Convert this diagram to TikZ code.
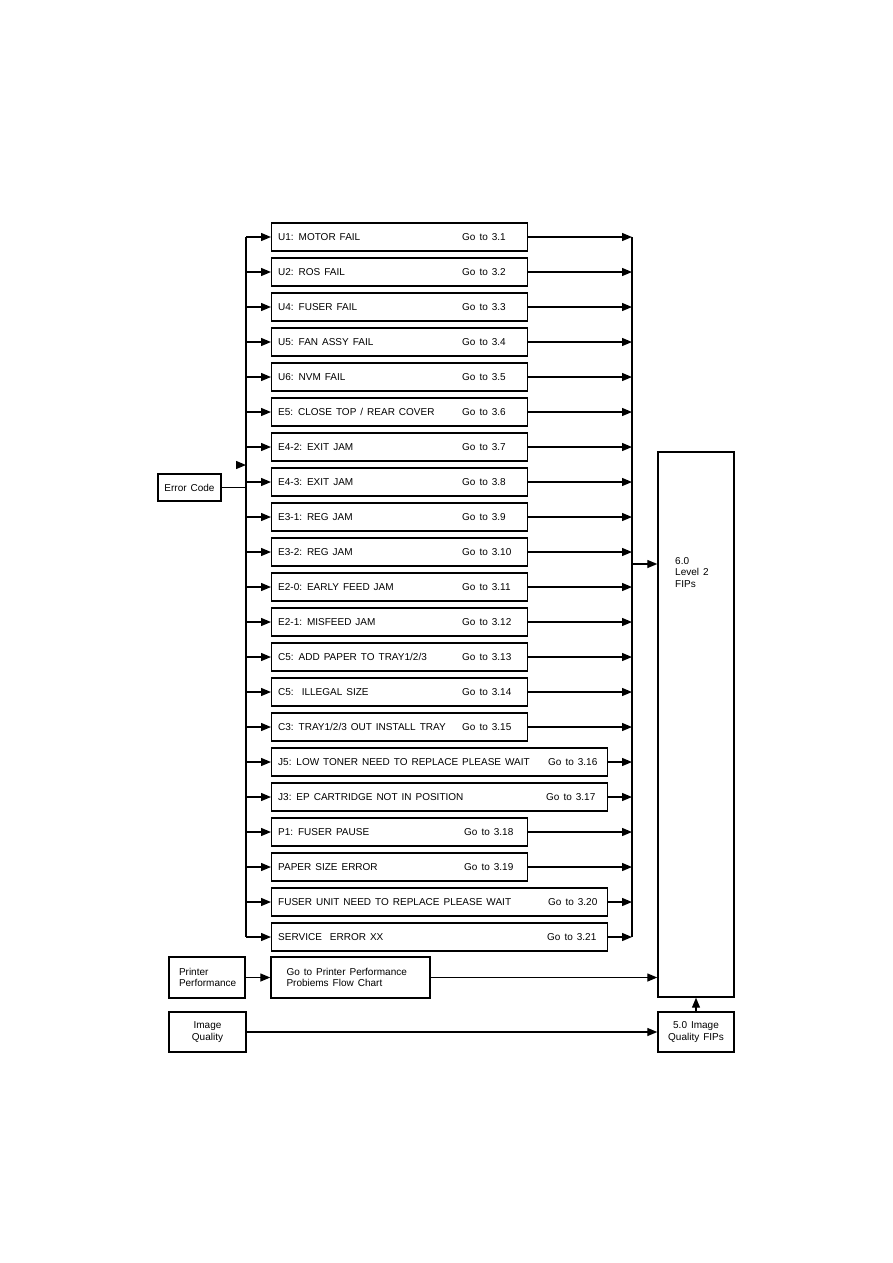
\documentclass[tikz,border=0pt]{standalone}
\usepackage{fontspec}
\setmainfont{Liberation Sans}
\usetikzlibrary{arrows.meta,positioning,calc}
\newcommand{\widespace}{\spaceskip=4pt plus 1pt\relax}

\begin{document}
\begin{tikzpicture}[
  x=1pt, y=-1pt,
  font=\fontsize{10}{11.5}\selectfont,
  every node/.append style={execute at begin node=\widespace},
  box/.style={draw, line width=1.4pt, inner sep=0pt, anchor=west, minimum height=28pt},
  sidebox/.style={draw, line width=1.4pt, align=left, inner sep=0pt},
  txt/.style={anchor=west, inner sep=0pt},
  arr/.style={-{Triangle[length=10pt,width=8pt]}, line width=1.3pt},
  bus/.style={line width=1.4pt}
]
\useasboundingbox (0,0) rectangle (893,1263);

% fault code boxes
\foreach \i/\lab/\go/\w/\gx in {
  1/{U1: MOTOR FAIL}/3.1/256/462,
  2/{U2: ROS FAIL}/3.2/256/462,
  3/{U4: FUSER FAIL}/3.3/256/462,
  4/{U5: FAN ASSY FAIL}/3.4/256/462,
  5/{U6: NVM FAIL}/3.5/256/462,
  6/{E5: CLOSE TOP / REAR COVER}/3.6/256/462,
  7/{E4-2: EXIT JAM}/3.7/256/462,
  8/{E4-3: EXIT JAM}/3.8/256/462,
  9/{E3-1: REG JAM}/3.9/256/462,
  10/{E3-2: REG JAM}/3.10/256/462,
  11/{E2-0: EARLY FEED JAM}/3.11/256/462,
  12/{E2-1: MISFEED JAM}/3.12/256/462,
  13/{C5: ADD PAPER TO TRAY1/2/3}/3.13/256/462,
  14/{C5:\ \ ILLEGAL SIZE}/3.14/256/462,
  15/{C3: TRAY1/2/3 OUT INSTALL TRAY}/3.15/256/462,
  16/{J5: LOW TONER NEED TO REPLACE PLEASE WAIT}/3.16/336/548,
  17/{J3: EP CARTRIDGE NOT IN POSITION}/3.17/336/546,
  18/{P1: FUSER PAUSE}/3.18/256/464,
  19/{PAPER SIZE ERROR}/3.19/256/464,
  20/{FUSER UNIT NEED TO REPLACE PLEASE WAIT}/3.20/336/548,
  21/{SERVICE\ \ ERROR XX}/3.21/336/547} {
  \pgfmathsetmacro{\ry}{237+35*(\i-1)}
  \node[box, minimum width=\w pt] (e\i) at (271,\ry) {};
  \node[txt] (l\i) at (278,\ry) {\lab};
  \node[txt] (g\i) at (\gx,\ry) {Go to \go};
  \coordinate (lb\i) at (246,\ry);
  \coordinate (rb\i) at (632,\ry);
  \draw[arr] (lb\i) -- (e\i.west);
  \draw[arr] (e\i.east) -- (rb\i);
}

% buses
\draw[bus] (lb1) -- (lb21);
\draw[bus] (rb1) -- (rb21);

% side boxes
\node[sidebox, minimum width=76pt, minimum height=545pt] (fips) at (696,724.5) {};
\node[txt, anchor=north west, align=left] (fipstxt) at (675,557) {6.0\\Level 2\\FIPs};

\node[sidebox, align=center, minimum width=63pt, minimum height=27pt] (ecode) at (189.5,487.5) {Error Code};
\coordinate (ecjoin) at (246,487.5);
\coordinate (eccue) at (246,465);
\coordinate (eccuestart) at (236,465);
\draw[bus] (ecode.east) -- (ecjoin);
\draw[arr] (eccuestart) -- (eccue);

\coordinate (rbout) at (632,564);
\draw[arr] (rbout) -- (fips.west |- rbout);

\node[sidebox, minimum width=76pt, minimum height=41pt, text width=56pt] (pperf) at (207,977.5) {Printer\\Performance};
\node[sidebox, minimum width=159pt, minimum height=41pt, text width=128pt] (pchart) at (350.5,977.5) {Go to Printer Performance\\Probiems Flow Chart};
\node[sidebox, align=center, minimum width=77pt, minimum height=40pt] (iqual) at (207.5,1032) {Image\\Quality};
\node[sidebox, align=center, minimum width=76pt, minimum height=40pt] (iqfips) at (696,1032) {5.0 Image\\Quality FIPs};

\draw[arr] (pperf) -- (pchart);
\draw[arr] (pchart.east) -- (fips.west |- pchart.east);
\draw[arr] (iqual) -- (iqfips);
\draw[arr] (iqfips) -- (fips);
\end{tikzpicture}
\end{document}
